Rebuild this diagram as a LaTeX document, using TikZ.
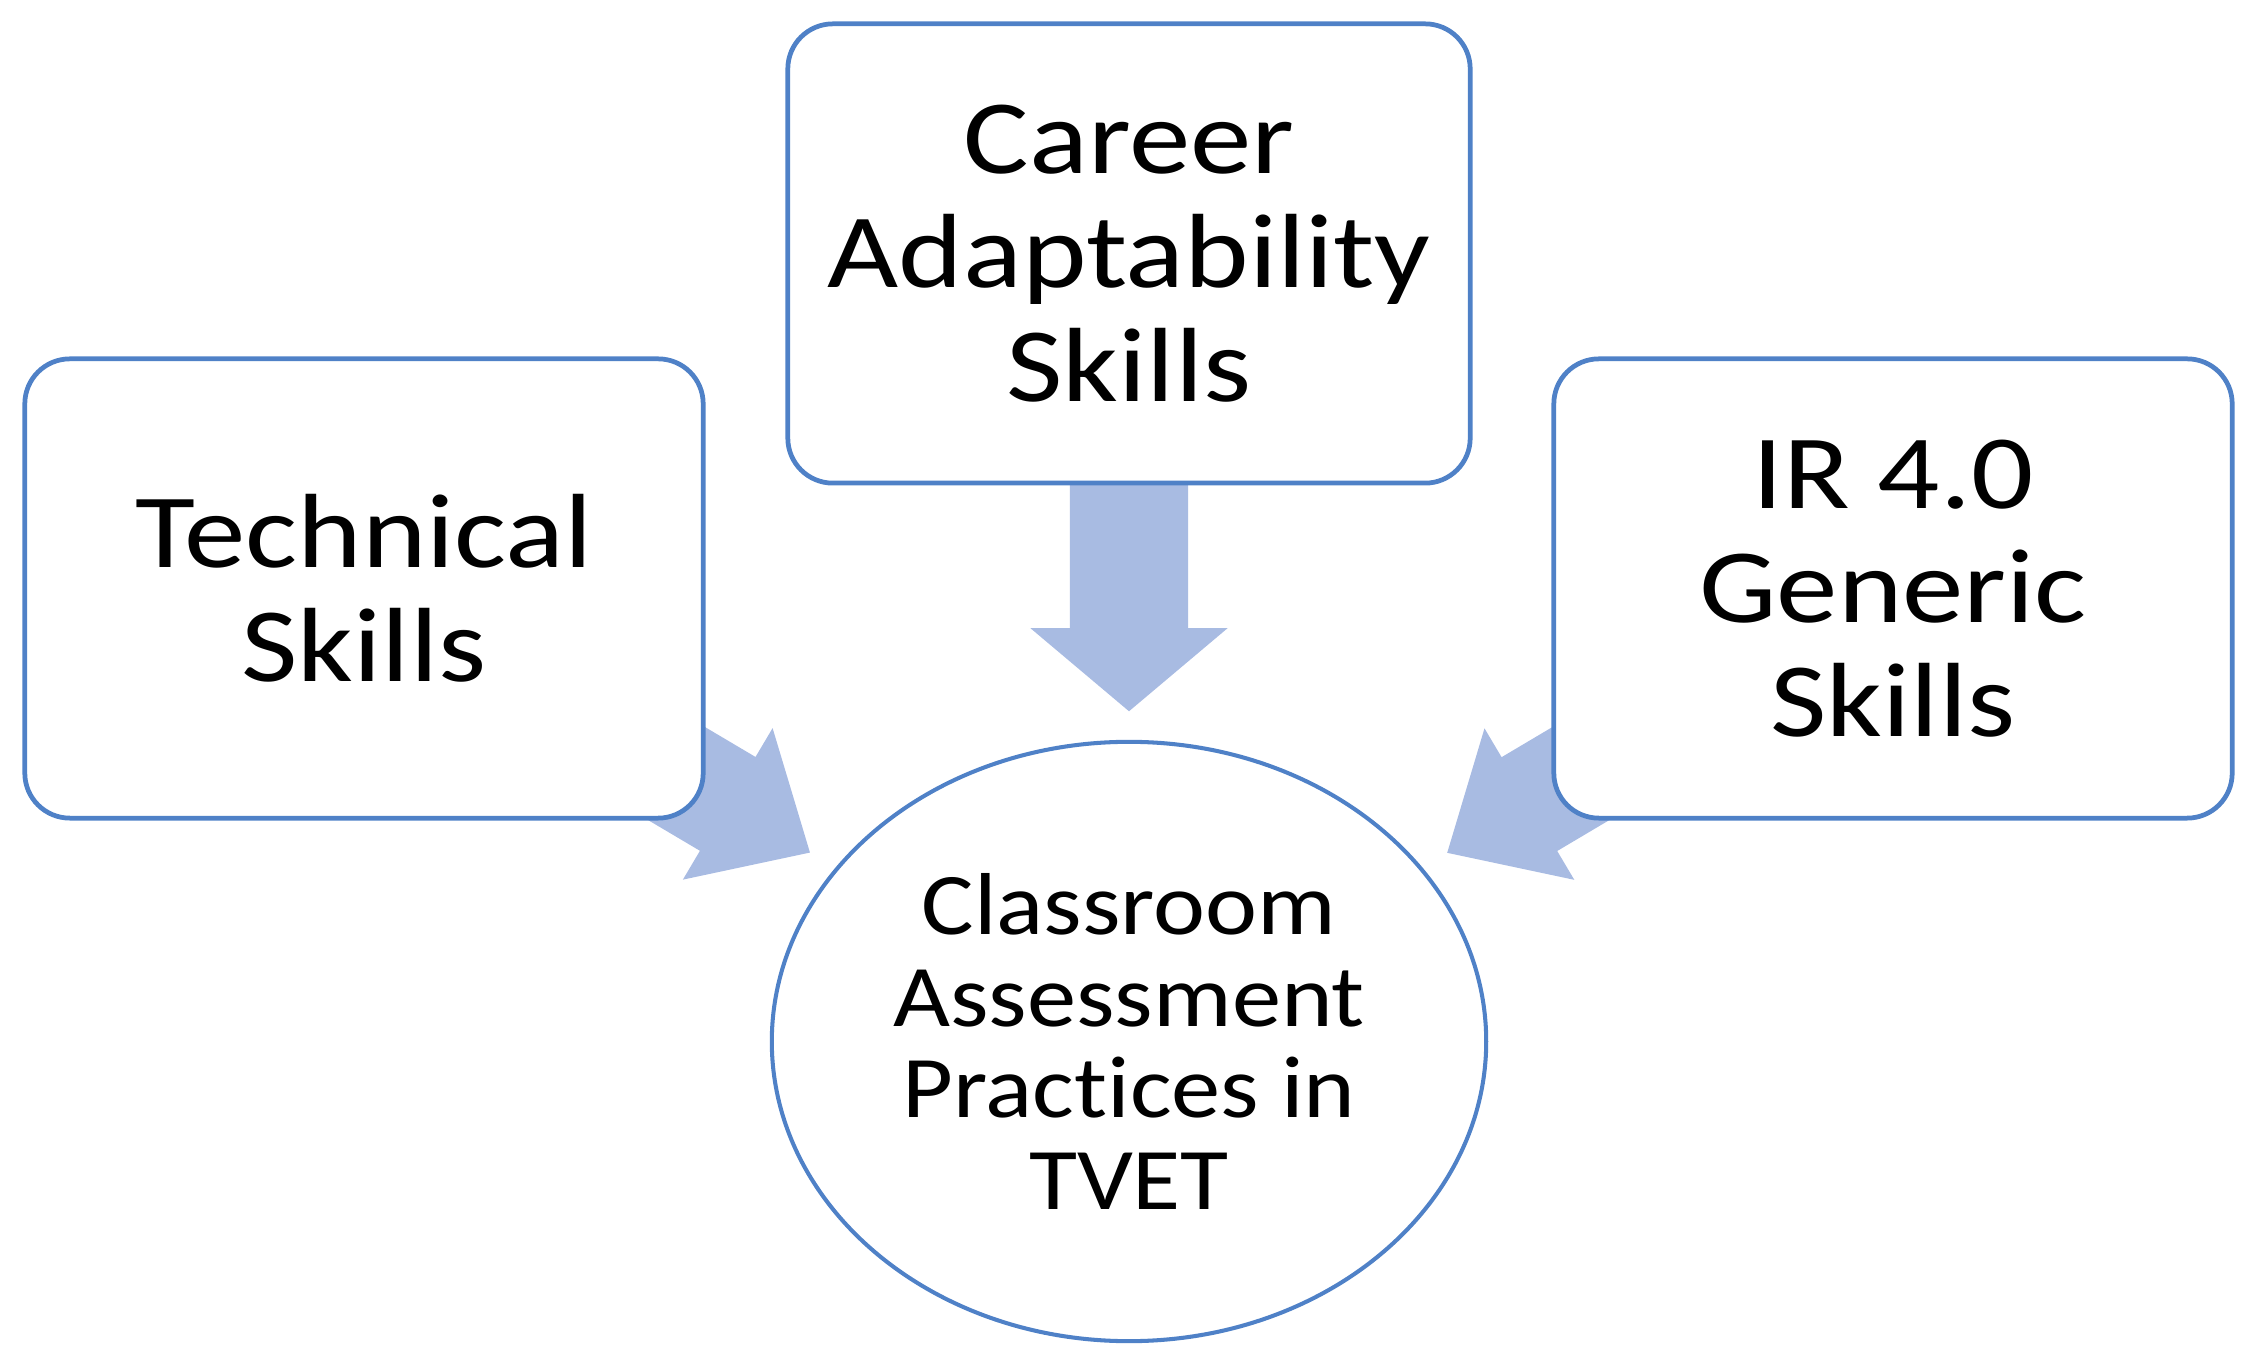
\documentclass[tikz,border=0pt]{standalone}
\usepackage{fontspec}
\setmainfont[FakeStretch=1.12, Ligatures=NoCommon]{Carlito}
\newfontfamily\boxfont[FakeStretch=1.165, Ligatures=NoCommon]{Carlito}
\usetikzlibrary{shapes.geometric,calc,backgrounds}
\definecolor{edgeblue}{RGB}{79,129,199}
\definecolor{arrowfill}{RGB}{168,187,226}
\newcommand\blockarrow[7]{%
  \coordinate (ba-b) at ($(#1.center)!#3!(#2.center)$);
  \coordinate (ba-h) at ($(#1.center)!#4!(#2.center)$);
  \coordinate (ba-t) at ($(#1.center)!#5!(#2.center)$);
  \fill[arrowfill] ($(ba-b)!#6!90:(#2.center)$) -- ($(ba-h)!#6!90:(#2.center)$)
     -- ($(ba-h)!#7!90:(#2.center)$) -- (ba-t) -- ($(ba-h)!#7!-90:(#2.center)$)
     -- ($(ba-h)!#6!-90:(#2.center)$) -- ($(ba-b)!#6!-90:(#2.center)$) -- cycle;}
\begin{document}
\begin{tikzpicture}[x=0.01cm,y=-0.01cm,
  skillbox/.style={draw=edgeblue, line width=1.35pt, fill=white, rounded corners=0.45cm,
     minimum width=6.78cm, minimum height=4.59cm, align=center,
     font=\boxfont\fontsize{30}{32.5}\selectfont, inner sep=0pt},
  target/.style={ellipse, draw=edgeblue, line width=1.15pt, fill=white,
     minimum width=7.14cm, minimum height=5.99cm, align=center,
     font=\fontsize{25}{26}\selectfont, inner sep=0pt}]
\useasboundingbox (0,0) rectangle (2255,1371);
\node[skillbox] (tech) at (364,588.5) {Technical\\Skills};
\node[skillbox, minimum width=6.82cm] (career) at (1129,253.5) {Career\\Adaptability\\Skills};
\node[skillbox] (ir) at (1893,588.5) {IR 4.0\\Generic\\Skills};
\node[target] (cap) at (1129,1041.5) {Classroom\\Assessment\\Pract\kern0pt ices in\\TVET};
\begin{pgfonlayer}{background}
  \blockarrow{tech}{cap}{2.5cm}{4.225cm}{5.18cm}{0.545cm}{0.88cm}
  \blockarrow{ir}{cap}{2.5cm}{4.225cm}{5.18cm}{0.545cm}{0.88cm}
  \blockarrow{career}{cap}{1.5cm}{3.745cm}{4.575cm}{0.59cm}{0.985cm}
\end{pgfonlayer}
\end{tikzpicture}
\end{document}
